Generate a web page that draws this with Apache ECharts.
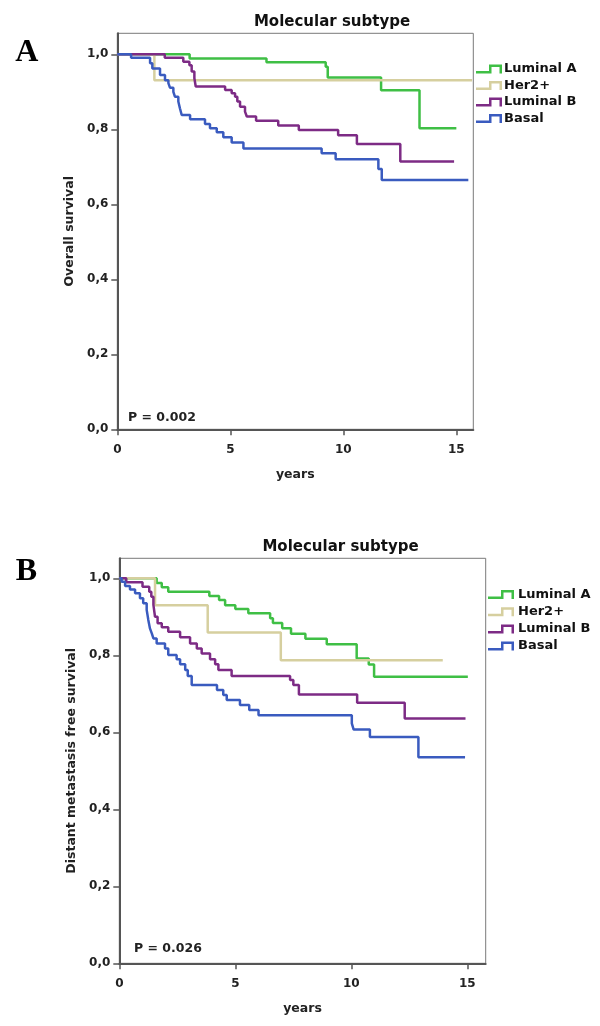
<!DOCTYPE html>
<html>
<head>
<meta charset="utf-8">
<script src="https://cdn.jsdelivr.net/npm/echarts@6/dist/echarts.min.js"></script>
<style>
html,body{margin:0;padding:0;background:#fff;}
#chart{width:600px;height:1026px;}
</style>
</head>
<body>
<div id="chart"></div>
<script>
// ---------- DATA ----------
const seriesNames = ['Luminal A', 'Her2+', 'Luminal B', 'Basal'];
const yTicks = [0, 0.2, 0.4, 0.6, 0.8, 1.0];
const xTicks = [0, 5, 10, 15];

// Panel A: Overall survival
const osLumA_t = [0, 3.2, 6.6, 9.22, 9.31, 11.67, 13.37, 15.0];
const osLumA_s = [1.0, 0.989, 0.979, 0.967, 0.938, 0.904, 0.803, 0.803];
const osHer2_t = [0, 1.64, 15.7];
const osHer2_s = [1.0, 0.931, 0.931];
const osLumB_t = [0, 2.1, 2.92, 3.19, 3.29, 3.41, 3.47, 4.77, 5.06, 5.21, 5.31, 5.43, 5.65, 5.73, 6.14, 7.12, 8.03, 9.77, 10.6, 12.52, 14.9];
const osLumB_s = [1.0, 0.991, 0.980, 0.971, 0.954, 0.936, 0.914, 0.905, 0.896, 0.887, 0.874, 0.860, 0.847, 0.834, 0.823, 0.810, 0.798, 0.784, 0.761, 0.714, 0.714];
const osBasal_t = [0, 0.61, 1.45, 1.55, 1.89, 2.11, 2.26, 2.33, 2.48, 2.55, 2.70, 2.77, 2.85, 3.22, 3.88, 4.10, 4.40, 4.69, 5.06, 5.58, 9.04, 9.66, 11.55, 11.7, 15.53];
const osBasal_s = [1.0, 0.991, 0.976, 0.962, 0.945, 0.931, 0.923, 0.911, 0.900, 0.887, 0.874, 0.856, 0.838, 0.827, 0.814, 0.803, 0.792, 0.779, 0.765, 0.749, 0.736, 0.720, 0.694, 0.665, 0.665];

// Panel B: Distant metastasis free survival
const dmLumA_t = [0, 1.61, 1.83, 2.11, 3.88, 4.3, 4.56, 5.0, 5.56, 6.5, 6.62, 7.02, 7.4, 8.02, 8.94, 10.23, 10.75, 10.98, 15.02];
const dmLumA_s = [1.0, 0.988, 0.977, 0.965, 0.954, 0.944, 0.930, 0.920, 0.909, 0.896, 0.884, 0.870, 0.856, 0.843, 0.829, 0.792, 0.776, 0.744, 0.744];
const dmHer2_t = [0, 1.54, 3.81, 6.96, 13.94];
const dmHer2_s = [1.0, 0.930, 0.859, 0.787, 0.787];
const dmLumB_t = [0, 0.3, 1.0, 1.29, 1.38, 1.47, 1.54, 1.65, 1.83, 2.11, 2.62, 3.05, 3.34, 3.55, 3.91, 4.13, 4.27, 4.84, 7.36, 7.5, 7.74, 10.25, 12.3, 14.92];
const dmLumB_s = [1.0, 0.990, 0.978, 0.965, 0.952, 0.931, 0.900, 0.883, 0.873, 0.861, 0.847, 0.831, 0.818, 0.805, 0.790, 0.777, 0.762, 0.746, 0.736, 0.723, 0.698, 0.677, 0.636, 0.636];
const dmBasal_t = [0, 0.1, 0.25, 0.46, 0.68, 0.89, 1.03, 1.18, 1.25, 1.32, 1.40, 1.47, 1.61, 1.97, 2.11, 2.47, 2.62, 2.84, 2.95, 3.12, 4.21, 4.48, 4.63, 5.2, 5.6, 6.0, 10.02, 10.1, 10.8, 12.89, 14.9];
const dmBasal_s = [1.0, 0.991, 0.980, 0.971, 0.961, 0.948, 0.935, 0.918, 0.892, 0.870, 0.857, 0.844, 0.831, 0.818, 0.801, 0.790, 0.777, 0.762, 0.746, 0.723, 0.710, 0.697, 0.684, 0.671, 0.658, 0.644, 0.623, 0.607, 0.588, 0.535, 0.535];

// ---------- STYLE ----------
const colors = ['#3fbf45', '#d6cf9f', '#7d2b85', '#3a5bbf'];
const FONT = 'DejaVu Sans';
const stepIcon = 'path://M0,6.5 L13,6.5 L13,0 L26,0 L26,9 L23.5,9 L23.5,2.5 L15.5,2.5 L15.5,9 L0,9 Z';

function zip(t, s) { return t.map((v, i) => [v, s[i]]); }

const panels = [
  [zip(osLumA_t, osLumA_s), zip(osHer2_t, osHer2_s), zip(osLumB_t, osLumB_s), zip(osBasal_t, osBasal_s)],
  [zip(dmLumA_t, dmLumA_s), zip(dmHer2_t, dmHer2_s), zip(dmLumB_t, dmLumB_s), zip(dmBasal_t, dmBasal_s)]
];

const grids = [
  {left: 117.3, top: 33.3, width: 356, height: 396},
  {left: 119.3, top: 558.3, width: 366.4, height: 405}
];
const xMax = [15.75, 15.79];
const yMax = [1.056, 1.052];
const yNames = ['Overall survival', 'Distant metastasis free survival'];

const axisLineStyle = {color: '#555', width: 2};
const labelStyle = {fontFamily: FONT, fontWeight: 'bold', fontSize: 12, color: '#222'};

const option = {
  animation: false,
  backgroundColor: '#fff',
  grid: grids.map(g => Object.assign({show: true, borderColor: '#7a7a7a', borderWidth: 1, backgroundColor: 'transparent'}, g)),
  xAxis: [0, 1].map(i => ({
    type: 'value', gridIndex: i, min: 0, max: xMax[i],
    name: 'years', nameLocation: 'middle', nameGap: 39,
    nameTextStyle: {fontFamily: FONT, fontWeight: 'bold', fontSize: 12.5, color: '#222'},
    axisLine: {show: true, onZero: false, lineStyle: axisLineStyle},
    axisTick: {show: true, length: 6, inside: false, customValues: xTicks, lineStyle: {color: '#555', width: 1.5}},
    axisLabel: Object.assign({margin: 15, customValues: xTicks}, labelStyle),
    splitLine: {show: false}
  })),
  yAxis: [0, 1].map(i => ({
    type: 'value', gridIndex: i, min: 0, max: yMax[i],
    name: yNames[i], nameLocation: 'middle', nameGap: 40, nameRotate: 90,
    nameTextStyle: {fontFamily: FONT, fontWeight: 'bold', fontSize: 12.5, color: '#222'},
    axisLine: {show: true, onZero: false, lineStyle: axisLineStyle},
    axisTick: {show: true, length: 6, customValues: yTicks, lineStyle: {color: '#555', width: 1.5}},
    axisLabel: Object.assign({margin: 9, customValues: yTicks, formatter: v => v.toFixed(1).replace('.', ',')}, labelStyle),
    splitLine: {show: false}
  })),
  legend: [
    {orient: 'vertical', left: 476, top: 62, padding: 0, itemWidth: 26, itemHeight: 9, itemGap: 2.5,
     icon: stepIcon, selectedMode: false, data: seriesNames,
     textStyle: {fontFamily: FONT, fontWeight: 'bold', fontSize: 13, color: '#111', lineHeight: 14, padding: [0, 0, 0, -3]}},
    {orient: 'vertical', left: 488, top: 587.5, padding: 0, itemWidth: 26, itemHeight: 9, itemGap: 3.2,
     icon: stepIcon, selectedMode: false, data: seriesNames,
     textStyle: {fontFamily: FONT, fontWeight: 'bold', fontSize: 13, color: '#111', lineHeight: 14, padding: [0, 0, 0, -1]}}
  ],
  series: [],
  graphic: [
    {type: 'text', x: 332, y: 22, style: {text: 'Molecular subtype', align: 'center', verticalAlign: 'middle', font: 'bold 15px "DejaVu Sans"', fill: '#111'}},
    {type: 'text', x: 340.5, y: 546.7, style: {text: 'Molecular subtype', align: 'center', verticalAlign: 'middle', font: 'bold 15px "DejaVu Sans"', fill: '#111'}},
    {type: 'text', x: 26.7, y: 53, style: {text: 'A', align: 'center', verticalAlign: 'middle', font: 'bold 32px "Liberation Serif"', fill: '#000'}},
    {type: 'text', x: 26.5, y: 571.5, style: {text: 'B', align: 'center', verticalAlign: 'middle', font: 'bold 32px "Liberation Serif"', fill: '#000'}},
    {type: 'text', x: 128, y: 418, style: {text: 'P = 0.002', align: 'left', verticalAlign: 'middle', font: 'bold 12.5px "DejaVu Sans"', fill: '#222'}},
    {type: 'text', x: 134, y: 948.7, style: {text: 'P = 0.026', align: 'left', verticalAlign: 'middle', font: 'bold 12.5px "DejaVu Sans"', fill: '#222'}}
  ]
};

panels.forEach((panel, gi) => {
  panel.forEach((data, si) => {
    option.series.push({
      name: seriesNames[si], type: 'line', step: 'end',
      xAxisIndex: gi, yAxisIndex: gi,
      data: data, symbol: 'none', showSymbol: false, clip: true,
      lineStyle: {color: colors[si], width: 2.5},
      itemStyle: {color: colors[si]},
      z: 2 + si
    });
  });
});

const chart = echarts.init(document.getElementById('chart'), null, {renderer: 'canvas'});
chart.setOption(option);
</script>
</body>
</html>
